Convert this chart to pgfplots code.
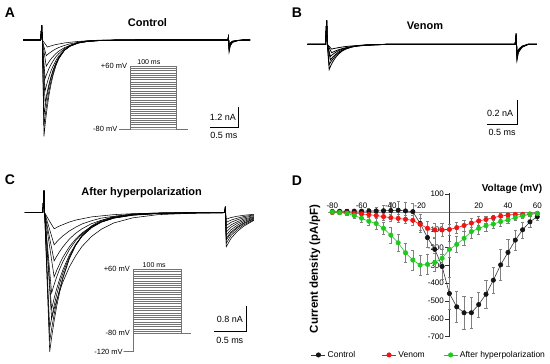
\documentclass[border=0pt]{standalone}
\usepackage{fontspec}
\setmainfont{Liberation Sans}
\usepackage{pgfplots}
\usepackage{pgfplotstable}
\pgfplotsset{compat=1.18}
\definecolor{ctrl}{RGB}{20,20,20}
\definecolor{ven}{RGB}{240,20,20}
\definecolor{hyp}{RGB}{30,200,30}

% Panel A traces (t in ms, I in nA)
\pgfplotstableread{
t a1 a2 a3 a4 a5 a6 a7 a8 a9
-0.33 0 0 0 0 0 0 0 0 0
-0.02 0 0 0 0 0 0 0 0 0
0.00 0.85 0.85 0.85 0.85 0.85 0.85 0.85 0.85 0.85
0.01 0 0 0 0 0 0 0 0 0
0.02 -1.83 -1.63 -1.43 -0.72 -0.58 -0.44 -0.21 -0.13 -0.04
0.04 -5.50 -4.90 -4.30 -2.16 -1.74 -1.32 -0.64 -0.39 -0.13
0.06 -4.85 -4.36 -3.85 -3.60 -2.90 -2.20 -1.07 -0.64 -0.22
0.08 -4.28 -3.87 -3.44 -3.24 -2.64 -2.02 -1.50 -0.90 -0.31
0.10 -3.78 -3.44 -3.08 -2.92 -2.40 -1.85 -1.39 -0.84 -0.40
0.13 -3.13 -2.89 -2.61 -2.49 -2.08 -1.62 -1.24 -0.76 -0.37
0.16 -2.60 -2.42 -2.21 -2.13 -1.80 -1.42 -1.10 -0.69 -0.34
0.20 -2.02 -1.91 -1.77 -1.72 -1.49 -1.20 -0.95 -0.60 -0.30
0.25 -1.48 -1.43 -1.34 -1.32 -1.17 -0.96 -0.78 -0.51 -0.26
0.30 -1.08 -1.06 -1.01 -1.02 -0.92 -0.78 -0.64 -0.43 -0.23
0.40 -0.58 -0.59 -0.58 -0.60 -0.57 -0.50 -0.44 -0.31 -0.17
0.50 -0.31 -0.33 -0.33 -0.36 -0.36 -0.33 -0.30 -0.22 -0.13
0.65 -0.12 -0.14 -0.14 -0.16 -0.17 -0.17 -0.17 -0.13 -0.08
0.80 -0.05 -0.06 -0.06 -0.07 -0.09 -0.09 -0.09 -0.08 -0.05
1.00 -0.01 -0.02 -0.02 -0.03 -0.03 -0.04 -0.04 -0.04 -0.03
1.30 0 0 0 0 -0.01 -0.01 -0.01 -0.02 -0.01
1.70 0 0 0 0 0 0 0 0 0
3.29 0 0 0 0 0 0 0 0 0
3.30 0.30 0.30 0.28 0.26 0.24 0.22 0.20 0.18 0.16
3.31 -0.70 -0.65 -0.60 -0.55 -0.50 -0.45 -0.40 -0.35 -0.30
3.33 -0.35 -0.32 -0.30 -0.27 -0.25 -0.22 -0.20 -0.17 -0.15
3.37 -0.14 -0.13 -0.12 -0.11 -0.10 -0.09 -0.08 -0.07 -0.06
3.45 -0.05 -0.05 -0.04 -0.04 -0.04 -0.03 -0.03 -0.02 -0.02
3.55 0 0 0 0 0 0 0 0 0
3.68 0 0 0 0 0 0 0 0 0
}\tA

% Panel B traces
\pgfplotstableread{
t b1 b2 b3 b4 b5 b6
-0.31 0 0 0 0 0 0
-0.02 0 0 0 0 0 0
0.00 0.20 0.20 0.20 0.20 0.20 0.20
0.01 0 0 0 0 0 0
0.02 -0.070 -0.057 -0.026 -0.020 -0.010 -0.006
0.04 -0.210 -0.170 -0.078 -0.060 -0.030 -0.017
0.06 -0.185 -0.152 -0.130 -0.100 -0.050 -0.029
0.08 -0.164 -0.136 -0.117 -0.091 -0.070 -0.040
0.10 -0.144 -0.122 -0.105 -0.083 -0.065 -0.037
0.13 -0.120 -0.103 -0.090 -0.072 -0.058 -0.034
0.16 -0.099 -0.087 -0.077 -0.062 -0.051 -0.031
0.20 -0.077 -0.070 -0.062 -0.051 -0.044 -0.027
0.25 -0.056 -0.053 -0.048 -0.041 -0.036 -0.023
0.30 -0.041 -0.040 -0.037 -0.032 -0.030 -0.019
0.40 -0.022 -0.023 -0.022 -0.020 -0.020 -0.014
0.50 -0.012 -0.013 -0.013 -0.012 -0.014 -0.010
0.65 -0.005 -0.006 -0.006 -0.006 -0.008 -0.006
0.80 -0.002 -0.003 -0.003 -0.003 -0.004 -0.004
1.00 0 0 0 0 0 0
3.04 0 0 0 0 0 0
3.055 0.09 0.09 0.08 0.08 0.07 0.07
3.07 -0.13 -0.12 -0.11 -0.10 -0.09 -0.08
3.09 -0.070 -0.065 -0.060 -0.055 -0.050 -0.045
3.15 -0.025 -0.023 -0.021 -0.019 -0.017 -0.015
3.25 0 0 0 0 0 0
3.39 0 0 0 0 0 0
}\tB

% Panel C traces
\pgfplotstableread{
t c1 c2 c3 c4 c5 c6 c7 c8 c9 c10
-0.30 0 0 0 0 0 0 0 0 0 0
-0.02 0 0 0 0 0 0 0 0 0 0
0.00 0.69 0.69 0.69 0.69 0.69 0.69 0.69 0.69 0.69 0.69
0.01 0 0 0 0 0 0 0 0 0 0
0.03 -1.08 -1.00 -0.90 -0.60 -0.55 -0.45 -0.27 -0.20 -0.13 -0.07
0.06 -2.71 -2.50 -2.25 -1.50 -1.36 -1.14 -0.67 -0.50 -0.33 -0.17
0.09 -4.33 -4.00 -3.60 -2.40 -2.18 -1.82 -1.07 -0.80 -0.53 -0.27
0.12 -3.89 -3.62 -3.28 -3.30 -3.00 -2.50 -1.47 -1.10 -0.73 -0.37
0.16 -3.37 -3.17 -2.89 -3.00 -2.67 -2.24 -2.00 -1.50 -1.00 -0.50
0.20 -2.92 -2.77 -2.55 -2.73 -2.37 -2.00 -1.80 -1.36 -0.91 -0.46
0.25 -2.45 -2.35 -2.18 -2.42 -2.05 -1.74 -1.58 -1.20 -0.81 -0.41
0.30 -2.04 -1.99 -1.87 -2.15 -1.77 -1.52 -1.38 -1.06 -0.72 -0.37
0.40 -1.43 -1.42 -1.37 -1.69 -1.32 -1.15 -1.06 -0.82 -0.57 -0.29
0.50 -1.00 -1.02 -1.00 -1.34 -0.98 -0.87 -0.82 -0.64 -0.45 -0.23
0.60 -0.70 -0.73 -0.73 -1.05 -0.73 -0.66 -0.63 -0.50 -0.35 -0.19
0.75 -0.41 -0.44 -0.46 -0.74 -0.47 -0.43 -0.42 -0.34 -0.25 -0.13
0.90 -0.24 -0.27 -0.29 -0.52 -0.30 -0.29 -0.29 -0.24 -0.17 -0.10
1.10 -0.12 -0.14 -0.15 -0.32 -0.17 -0.16 -0.17 -0.14 -0.11 -0.06
1.40 -0.04 -0.05 -0.06 -0.16 -0.07 -0.07 -0.08 -0.07 -0.05 -0.03
1.80 -0.01 -0.01 -0.02 -0.06 -0.02 -0.02 -0.03 -0.02 -0.02 -0.01
2.30 0 0 0 -0.02 0 0 -0.01 -0.01 -0.01 0
2.85 0 0 0 0 0 0 0 0 0 0
2.86 0.20 0.20 0.19 0.18 0.17 0.16 0.15 0.14 0.13 0.12
2.875 -1.06 -0.95 -0.85 -0.80 -0.70 -0.60 -0.50 -0.40 -0.30 -0.20
2.95 -0.80 -0.71 -0.64 -0.60 -0.53 -0.45 -0.38 -0.30 -0.23 -0.15
3.05 -0.58 -0.52 -0.47 -0.44 -0.39 -0.33 -0.28 -0.22 -0.17 -0.11
3.15 -0.42 -0.38 -0.34 -0.32 -0.28 -0.24 -0.20 -0.16 -0.12 -0.08
3.31 -0.24 -0.22 -0.20 -0.18 -0.16 -0.14 -0.12 -0.09 -0.07 -0.05
}\tC

% Panel D: I-V relationship (mV, pA/pF, SEM)
\pgfplotstableread{
v c ce r re g ge
-80 3 8 -3 6 0 5
-75 4 8 -4 6 -3 8
-70 4 10 -5 8 -8 10
-65 5 10 -8 8 -20 15
-60 5 12 -11 10 -35 20
-55 5 15 -15 12 -52 25
-50 6 20 -20 15 -65 30
-45 7 30 -26 18 -92 35
-40 8 45 -32 20 -130 45
-35 10 50 -36 22 -173 50
-30 6 50 -41 25 -229 55
-25 2 45 -47 30 -270 55
-20 -64 50 -69 35 -298 55
-15 -144 55 -92 40 -294 55
-10 -210 60 -101 40 -283 50
-5 -306 70 -101 35 -260 50
0 -458 90 -98 30 -210 45
5 -533 85 -88 30 -182 45
10 -566 90 -76 30 -148 40
15 -566 85 -62 25 -110 40
20 -520 70 -50 25 -92 35
25 -462 80 -42 20 -77 30
30 -383 75 -32 15 -68 25
35 -297 85 -23 15 -54 25
40 -227 75 -17 12 -45 20
45 -158 55 -14 10 -32 15
50 -100 45 -13 8 -22 12
55 -55 30 -11 8 -13 10
60 -27 20 -10 6 -7 8
}\tD

\pgfplotsset{
  trace/.style={scale only axis, hide axis, clip=false, anchor=south west},
  tr/.style={black, line width=0.55pt, mark=none},
  proto/.style={scale only axis, hide axis, clip=false, anchor=south west},
  pr/.style={black!55, line width=0.35pt, mark=none},
  ebar/.style={error bars/.cd, y dir=both, y explicit,
    error bar style={black!50, line width=0.5pt},
    error mark options={rotate=90, black!50, mark size=1.6pt, line width=0.5pt}},
}
\newcommand{\sbfont}{\fontsize{9}{10}\selectfont}
\newcommand{\prfont}{\fontsize{7.5}{8.5}\selectfont}

\begin{document}
\begin{tikzpicture}
\path[use as bounding box] (0pt,0pt) rectangle (550pt,364pt);

% ---------- Panel A ----------
\begin{axis}[trace, at={(21.9pt,219pt)}, width=232.1pt, height=131.25pt,
  xmin=-0.35, xmax=3.75, ymin=-6, ymax=1.5]
\pgfplotsinvokeforeach{1,...,9}{\addplot[tr] table[x=t, y=a#1]{\tA};}
\draw[line width=0.9pt] (axis cs:2.977,-5.01) -- (axis cs:3.477,-5.01) -- (axis cs:3.477,-3.81);
\node[anchor=east, inner sep=0pt, font=\sbfont] at (axis cs:3.433,-4.41) {1.2 nA};
\node[anchor=north, inner sep=0pt, font=\sbfont] at (axis cs:3.22,-5.28) {0.5 ms};
\end{axis}
\begin{axis}[proto, at={(118.5pt,235pt)}, width=71.3pt, height=63pt,
  xmin=-25, xmax=130, ymin=-80, ymax=60]
\pgfplotsinvokeforeach{-80,-75,...,60}{\addplot[pr] coordinates {(-23,-80) (0,-80) (0,#1) (100,#1) (100,-80) (127,-80)};}
\node[anchor=east, inner sep=0pt, font=\prfont] at (axis cs:-6,60) {+60 mV};
\node[anchor=east, inner sep=0pt, font=\prfont] at (axis cs:-27,-80) {-80 mV};
\node[anchor=south, inner sep=0pt, font=\fontsize{7}{8}\selectfont] at (axis cs:41,63) {100 ms};
\end{axis}

% ---------- Panel B ----------
\begin{axis}[trace, at={(305pt,235.7pt)}, width=238.7pt, height=120pt,
  xmin=-0.35, xmax=3.5, ymin=-0.7, ymax=0.3]
\pgfplotsinvokeforeach{1,...,6}{\addplot[tr, line width=0.8pt] table[x=t, y=b#1]{\tB};}
\draw[line width=0.9pt] (axis cs:2.58,-0.664) -- (axis cs:3.08,-0.664) -- (axis cs:3.08,-0.464);
\node[anchor=east, inner sep=0pt, font=\sbfont] at (axis cs:3.01,-0.575) {0.2 nA};
\node[anchor=north, inner sep=0pt, font=\sbfont] at (axis cs:2.83,-0.71) {0.5 ms};
\end{axis}

% ---------- Panel C ----------
\begin{axis}[trace, at={(21.8pt,3.6pt)}, width=237.75pt, height=179.8pt,
  xmin=-0.35, xmax=3.4, ymin=-4.6, ymax=1.0]
\pgfplotsinvokeforeach{1,...,10}{\addplot[tr] table[x=t, y=c#1]{\tC};}
\draw[line width=0.9pt] (axis cs:2.686,-3.707) -- (axis cs:3.186,-3.707) -- (axis cs:3.186,-2.907);
\node[anchor=east, inner sep=0pt, font=\sbfont] at (axis cs:3.14,-3.32) {0.8 nA};
\node[anchor=north, inner sep=0pt, font=\sbfont] at (axis cs:2.93,-3.88) {0.5 ms};
\end{axis}
\begin{axis}[proto, at={(121.5pt,12.4pt)}, width=73.5pt, height=82.3pt,
  xmin=-25, xmax=130, ymin=-120, ymax=60]
\pgfplotsinvokeforeach{-80,-75,...,60}{\addplot[pr] coordinates {(-20,-120) (0,-120) (0,#1) (100,#1) (100,-80) (121,-80)};}
\node[anchor=east, inner sep=0pt, font=\prfont] at (axis cs:-7,60) {+60 mV};
\node[anchor=east, inner sep=0pt, font=\prfont] at (axis cs:-7,-80) {-80 mV};
\node[anchor=east, inner sep=0pt, font=\prfont] at (axis cs:-22,-120) {-120 mV};
\node[anchor=south, inner sep=0pt, font=\fontsize{7}{8}\selectfont] at (axis cs:44,63) {100 ms};
\end{axis}

% ---------- Panel D ----------
\begin{axis}[at={(327.9pt,26.5pt)}, anchor=south west, scale only axis,
  width=212.3pt, height=144.2pt, clip=false,
  xmin=-83, xmax=62, ymin=-705, ymax=105,
  axis x line=middle, axis y line=middle,
  x axis line style={-, black!45, line width=0.7pt},
  y axis line style={-, black!80, line width=0.6pt},
  xtick={-80,-60,-40,-20,20,40,60},
  ytick={100,-100,-200,-300,-400,-500,-600,-700},
  x tick style={draw=none},
  y tick style={black!80, line width=0.6pt, xshift=-2pt},
  major tick length=4pt,
  tick label style={font=\fontsize{8}{9}\selectfont},
  x tick label style={anchor=south, yshift=2pt},
  y tick label style={anchor=east},
  /pgf/number format/assume math mode=true,
  legend columns=3,
  legend cell align=left,
  legend style={draw=none, fill=none, at={(-0.094,-0.121)}, anchor=west,
    font=\fontsize{8.5}{10}\selectfont},
  legend image code/.code={\draw[mark repeat=2,mark phase=2,#1] plot coordinates {(0pt,0pt) (7pt,0pt) (14pt,0pt)};},
]
\addplot[ctrl!85, line width=0.6pt, mark=*, mark size=2.2pt, mark options={fill=ctrl, draw=ctrl}, ebar]
  table[x=v, y=c, y error=ce]{\tD};
\addlegendentry{\makebox[52pt][l]{Control}}
\addplot[ven, line width=0.6pt, mark=*, mark size=2.2pt, mark options={fill=ven, draw=ven}, ebar]
  table[x=v, y=r, y error=re]{\tD};
\addlegendentry{\makebox[43pt][l]{Venom}}
\addplot[hyp, line width=0.6pt, mark=*, mark size=2.2pt, mark options={fill=hyp, draw=hyp}, ebar]
  table[x=v, y=g, y error=ge]{\tD};
\addlegendentry{After hyperpolarization}
\end{axis}

% ---------- Text ----------
\node[font=\bfseries\fontsize{14}{16}\selectfont] at (10pt,351pt) {A};
\node[font=\bfseries\fontsize{14}{16}\selectfont] at (297pt,351pt) {B};
\node[font=\bfseries\fontsize{14}{16}\selectfont] at (10pt,184pt) {C};
\node[font=\bfseries\fontsize{14}{16}\selectfont] at (297pt,183pt) {D};
\node[font=\bfseries\fontsize{11}{13}\selectfont] at (147.5pt,341.5pt) {Control};
\node[font=\bfseries\fontsize{11}{13}\selectfont] at (425pt,338pt) {Venom};
\node[font=\bfseries\fontsize{11}{13}\selectfont] at (141.7pt,171.7pt) {After hyperpolarization};
\node[font=\bfseries\fontsize{10}{12}\selectfont] at (512pt,175pt) {Voltage (mV)};
\node[font=\bfseries\fontsize{11.5}{13}\selectfont, rotate=90] at (315pt,95pt) {Current density (pA/pF)};
\end{tikzpicture}
\end{document}
